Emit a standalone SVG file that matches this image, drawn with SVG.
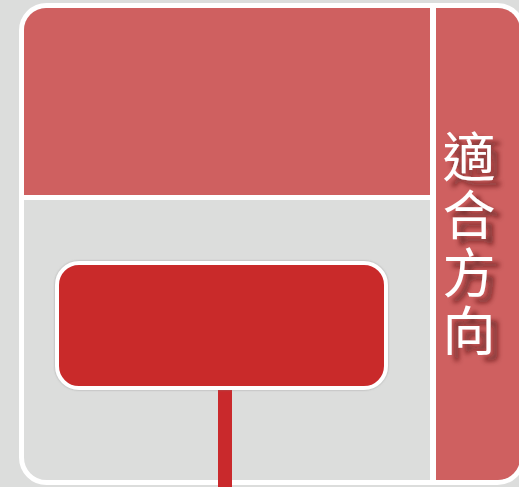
<svg xmlns="http://www.w3.org/2000/svg" width="519" height="487" viewBox="0 0 519 487">
<style>
.panel{fill:#cf6060}
.box{fill:#c9292c;stroke:#ffffff;stroke-width:4}
.lbl{font-family:"Noto Sans CJK TC","Noto Sans CJK SC",sans-serif;font-size:53px;fill:#ffffff;letter-spacing:5px}
</style>
<defs>
<clipPath id="inner"><rect x="24" y="8" width="496" height="472" rx="22"/></clipPath>
<filter id="shadow" x="-30%" y="-30%" width="160%" height="160%">
<feDropShadow dx="7" dy="6" stdDeviation="2.8" flood-color="#4a1010" flood-opacity="0.7"/>
</filter>
<filter id="soft" x="-10%" y="-10%" width="120%" height="120%">
<feDropShadow dx="0" dy="0" stdDeviation="1" flood-color="#808080" flood-opacity="0.6"/>
</filter>
</defs>
<rect width="519" height="487" fill="#dcdddc"/>
<rect x="21.5" y="5.5" width="501" height="477" rx="25" fill="#dcdddc" stroke="#ffffff" stroke-width="5"/>
<g clip-path="url(#inner)">
<g id="top-panel"><rect class="panel" x="20" y="5" width="410" height="190"/></g>
<rect x="20" y="195" width="410" height="5" fill="#ffffff"/>
<rect x="430" y="5" width="6" height="480" fill="#ffffff"/>
<g id="direction-strip">
<rect class="panel" x="436" y="5" width="90" height="480"/>
<text class="lbl" writing-mode="vertical-rl" x="469" y="130" filter="url(#shadow)">適合方向</text>
</g>
</g>
<g id="connectors">
<rect x="218" y="386" width="14" height="101" fill="#c9292c"/>
</g>
<g id="inner-box">
<rect class="box" x="57" y="263" width="329" height="125" rx="22" filter="url(#soft)"/>
</g>
</svg>
